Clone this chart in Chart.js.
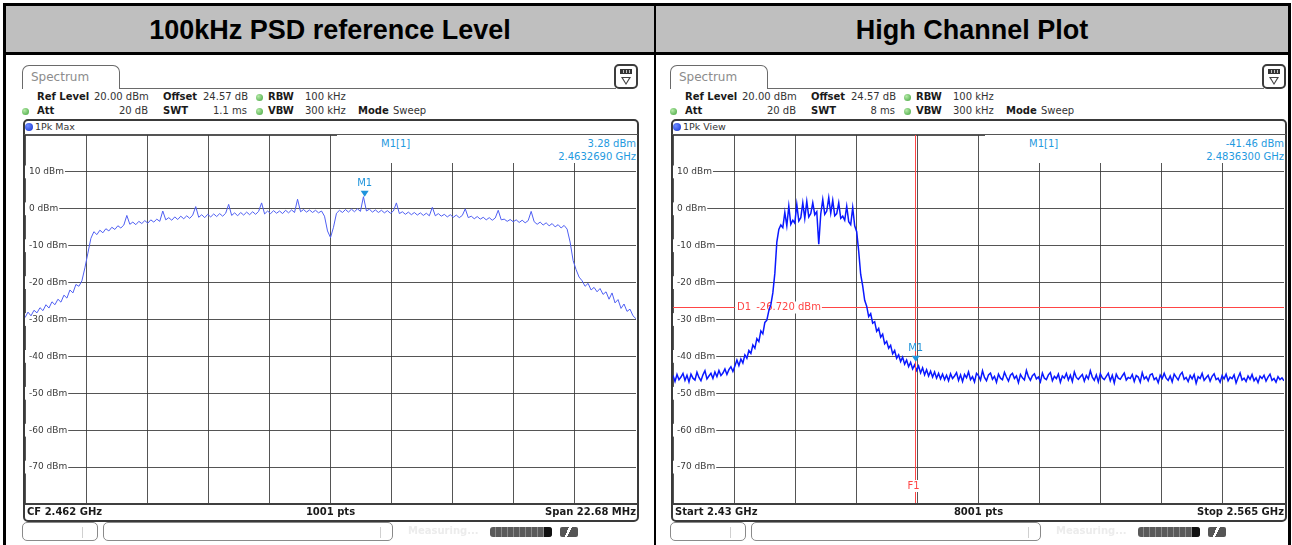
<!DOCTYPE html>
<html lang="en">
<head>
<meta charset="utf-8">
<title>100kHz PSD reference Level / High Channel Plot</title>
<script src="https://cdn.jsdelivr.net/npm/chart.js@4.4.1/dist/chart.umd.min.js"></script>
<style>
  html, body { margin:0; padding:0; background:#fff; }
  body { position:relative; width:1292px; height:545px; overflow:hidden; font-family:"DejaVu Sans", Verdana, sans-serif; }
  .a { position:absolute; white-space:nowrap; }
  #outer { left:3px; top:3px; width:1282px; height:600px; border:3px solid #000; }
  #head { left:6px; top:6px; width:1282px; height:46px; background:#bfbfbf; border-bottom:3px solid #000; }
  #divider { left:654px; top:6px; width:2px; height:560px; background:#000; }
  .title { top:6px; height:46px; text-align:center; font:bold 27px "Liberation Sans", Arial, sans-serif; line-height:48px; color:#000; }
  .panel { top:62px; width:622px; height:483px; }
  .tab { left:2px; top:3px; width:98px; height:24px; box-sizing:border-box; border:1px solid #6a6a6a; border-bottom:none; border-radius:7px 7px 0 0; font-size:12px; color:#8c8c8c; line-height:23px; padding-left:8px; background:#fff; }
  .tabline { left:99px; top:26px; width:497px; height:1px; background:#6a6a6a; }
  .icon { left:594px; top:2px; width:24px; height:25px; box-sizing:border-box; border:2px solid #3c3c3c; border-radius:5px; background:#fff; }
  .bat { left:4px; top:3px; width:12px; height:5px; background:repeating-linear-gradient(90deg,#333 0 2px,#bbb 2px 3px); border:1px solid #333; box-sizing:border-box; }
  .tri { left:5px; top:11px; width:0; height:0; border-left:5px solid transparent; border-right:5px solid transparent; border-top:8px solid #444; }
  .tri2 { left:7px; top:12px; width:0; height:0; border-left:3px solid transparent; border-right:3px solid transparent; border-top:5px solid #fff; }
  .t { font-size:10px; line-height:12px; height:12px; color:#333; }
  .b { font-weight:bold; color:#1a1a1a; }
  .dot { width:7px; height:7px; border-radius:50%; background:radial-gradient(circle at 35% 35%, #b5eaa8, #3fa33a); }
  .tbox { left:3px; top:57px; width:616px; height:403px; box-sizing:border-box; border:2px solid #3a3a3a; border-radius:5px; }
  .bdot { left:5px; top:61px; width:8px; height:8px; border-radius:50%; background:radial-gradient(circle at 35% 35%, #6f8cff, #1030d0); }
  .pline { left:4px; top:72px; width:614px; height:1px; background:#555; }
  .bline { left:4px; top:441px; width:614px; height:2px; background:#3f3f3f; }
  .cv { left:5px; top:73px; }
  .mbox { left:317px; top:73px; width:299px; height:28px; background:#fff; }
  .mk { color:#1f9ae0; font-size:10px; line-height:12px; }
  .foot { top:443px; font-size:10px; font-weight:bold; line-height:14px; color:#1a1a1a; }
  .sb { top:460px; height:19px; box-sizing:border-box; border:1px solid #8a8a8a; border-radius:5px; background:#fff; }
  .sbd { top:4px; width:1px; height:11px; background:#d0d0d0; }
  .meas { left:388px; top:463px; font-size:10px; font-weight:bold; color:#ececec; }
  .prog { left:470px; top:465px; width:62px; height:10px; border-radius:3px; background:repeating-linear-gradient(90deg,#5a5a5a 0 5px,#8a8a8a 5px 6px); }
  .progEnd { left:524px; top:465px; width:8px; height:10px; border-radius:0 3px 3px 0; background:#111; }
  .pico { left:540px; top:465px; width:18px; height:10px; background:linear-gradient(115deg,#555 0 40%, #fff 40% 52%, #555 52%); border-radius:2px; }
</style>
</head>
<body>
<div id="outer" class="a"></div>
<div id="head" class="a"></div>
<div id="divider" class="a"></div>
<div class="a title" style="left:6px;width:648px;">100kHz PSD reference Level</div>
<div class="a title" style="left:656px;width:632px;">High Channel Plot</div>
<div id="panels"></div>

<script>
// ---- Level axis (dBm) ----
const levelMin = -80;
const levelMax = 20;
const gridLevels = [20, 10, 0, -10, -20, -30, -40, -50, -60, -70, -80];
const levelTicks = [10, 0, -10, -20, -30, -40, -50, -60, -70];

// ---- 100 kHz PSD sweep: CF 2.462 GHz, span 22.68 MHz ----
const psdStartMHz = 2450.66;
const psdStopMHz = 2473.34;
const psdLevels = [
  -29.5,-28,-29,-27.5,-28.2,-26.8,-27.6,-26,-26.9,-25.2,
  -26,-24.5,-25.3,-23.4,-24.2,-22,-22.8,-20.5,-21,-19.5,
  -16,-12,-8,-6.2,-7,-5.8,-6.5,-5.4,-6,-5,
  -5.6,-4.6,-5.2,-4.4,-1.8,-4.2,-3.6,-4.3,-3.4,-4,
  -3.2,-3.9,-3,-3.6,-2.8,-3.4,-0.6,-3,-2.4,-3.1,
  -2.2,-2.9,-2,-2.7,-1.9,-2.6,-1.7,0.6,-2.3,-1.6,
  -2.4,-1.5,-2.2,-1.4,-2.1,-1.3,-2,-1.2,1.2,-1.8,
  -1.1,-1.9,-1,-1.7,-0.9,-1.6,-0.8,-1.5,-0.7,1.6,
  -1.4,-0.6,-1.3,-0.5,-1.2,-0.6,-1.3,-0.4,-1.1,-0.3,
  -1,2.6,-0.8,-0.2,-0.9,-0.3,-1,-0.4,-1.1,-0.6,
  -2,-6,-7.8,-5,-1.2,-0.4,-1,-0.2,-0.9,-0.1,
  -0.8,0,-0.7,3.28,-0.6,-0.1,-0.9,-0.3,-1,-0.4,
  -1.1,-0.5,-1.2,-0.6,1.6,-1.3,-0.8,-1.5,-0.9,-1.6,
  -1,-1.7,-1.1,-1.8,-1.2,-1.9,0.4,-1.9,-1.3,-2,
  -1.5,-2.2,-1.6,-2.3,-1.7,-2.4,-1.8,0,-2.4,-2,
  -2.7,-2.1,-2.8,-2.3,-3,-2.4,-3.1,-2.5,-0.4,-3,
  -2.8,-3.4,-2.9,-3.5,-3,-3.7,-3.1,-3.8,-3.2,-0.7,
  -3.5,-4.2,-3.6,-4.4,-3.8,-4.6,-4,-4.9,-4.3,-5.2,
  -4.5,-5.5,-9,-14,-16.5,-18.5,-19.5,-21,-20.2,-22,
  -21.3,-22.5,-21.6,-23.2,-22.5,-24.5,-22.8,-25.5,-24.6,-27,
  -25.8,-27.8,-27.2,-29,-29.8
];
const psdMarkerMHz = 2463.269;
const psdMarkerDbm = 3.28;

// ---- High channel sweep: 2.43 GHz to 2.565 GHz ----
const hiStartMHz = 2430;
const hiStopMHz = 2565;
const hiLevels = [
  -45.2,-46.8,-44.9,-46.3,-45.6,-44.6,-46.5,-45.1,-46.9,-44.8,
  -45.9,-46.4,-44.3,-45.7,-46.6,-45.0,-43.9,-46.1,-45.3,-44.6,
  -46.0,-44.2,-45.5,-43.8,-45.2,-44.5,-43.4,-44.9,-43.6,-42.8,
  -44.1,-42.6,-41.0,-42.5,-40.7,-41.8,-39.6,-40.5,-38.4,-39.2,
  -36.9,-37.8,-35.2,-36.0,-33.1,-33.9,-30.8,-30.2,-27.6,-26.0,
  -22.8,-17.5,-9.0,
  -5.6,-4.4,-5.1,-1.0,-4.6,0.7,-4.2,
  -3.1,-3.9,1.2,-3.3,-2.4,1.6,-2.6,2.0,-2.2,-1.3,
  1.6,-1.6,-0.8,-9.6,-1.4,2.5,-1.5,-0.6,3.0,-1.2,
  2.3,-1.9,-1.3,1.6,-2.6,-2.0,-3.1,0.7,-3.5,-4.3,
  0.3,-4.6,-6.2,-11.5,-17.8,-20.9,-24.8,-26.4,-29.2,-28.4,
  -31.0,-30.6,-33.2,-32.4,-34.8,-34.0,-36.6,-35.9,-37.8,-37.0,
  -39.3,-38.4,-40.5,-39.6,-41.4,-40.2,-42.1,-41.0,-42.8,-41.6,
  -43.4,-42.3,-43.8,-42.6,-44.5,-43.1,-45.0,-43.6,-45.3,-44.0,
  -45.6,-44.2,-45.9,-44.6,-46.1,-44.8,-46.3,
  -45.1,-46.6,-44.7,-46.0,-45.3,-44.4,-46.5,-45.0,-46.8,-44.9,
  -45.8,-44.2,-46.3,-45.5,-46.9,-44.6,-45.2,-46.4,-43.9,-45.7,
  -46.6,-45.0,-44.5,-46.2,-45.4,-47.0,-44.8,-45.9,-46.3,-44.3,
  -45.6,-46.7,-45.1,-44.6,-46.0,-45.3,-47.1,-44.9,-45.8,-46.4,
  -43.8,-45.5,-46.5,-45.2,-44.7,-46.1,-45.6,-46.9,-44.5,-45.9,
  -46.3,-45.0,-44.4,-46.6,-45.4,-46.0,-44.8,-47.0,-45.3,-45.9,
  -44.6,-46.4,-45.1,-46.8,-44.2,-45.7,-46.2,-45.5,-44.9,-46.7,
  -45.2,-46.1,-43.9,-45.6,-46.5,-45.0,-46.9,-44.7,-45.8,-46.3,
  -45.4,-44.6,-46.6,-45.1,-47.2,-44.8,-45.9,-46.2,-45.3,-44.5,
  -46.4,-45.7,-46.0,-44.9,-46.8,-45.2,-45.6,-47.0,-44.4,-46.1,
  -45.5,-46.6,-45.0,-44.7,-46.3,-45.8,-47.1,-45.1,-46.0,-44.6,
  -45.9,-46.5,-45.3,-46.9,-44.8,-45.6,-46.4,-45.0,-44.3,-46.2,
  -45.7,-46.8,-45.2,-46.1,-44.9,-47.3,-45.5,-46.0,-44.6,-46.5,
  -45.8,-45.1,-46.7,-45.4,-44.7,-46.3,-45.9,-47.0,-45.2,-46.1,
  -44.8,-46.6,-45.6,-46.0,-45.0,-47.2,-45.7,-44.5,-46.4,-45.9,
  -46.8,-45.3,-46.2,-44.9,-46.6,-45.8,-47.1,-45.4,-46.0,-45.1,
  -46.7,-45.6,-44.8,-46.5,-46.0,-47.0,-45.5,-46.3,-45.8,-46.6
];
const hiMarkerMHz = 2483.63;
const hiMarkerDbm = -41.46;
const hiDisplayLineDbm = -26.72;
const hiFreqLineMHz = 2483.5;

// ---- Instrument header / footer texts ----
const panelSettings = [
  { left: 20, canvasId: 'psdCanvas', swt: '1.1 ms', trace: '1Pk Max',
    markerDbm: psdMarkerDbm, markerMHz: psdMarkerMHz,
    foot: ['CF 2.462 GHz', '1001 pts', 'Span 22.68 MHz'] },
  { left: 668, canvasId: 'hiCanvas', swt: '8 ms', trace: '1Pk View',
    markerDbm: hiMarkerDbm, markerMHz: hiMarkerMHz,
    foot: ['Start 2.43 GHz', '8001 pts', 'Stop 2.565 GHz'] }
];

const gridColor = 'rgba(55,55,55,0.85)';
const markerColor = '#1f94dc';
const redColor = '#ff4545';

function panelHTML(p) {
  return `
  <div class="a panel" style="left:${p.left}px">
    <div class="a tab">Spectrum</div>
    <div class="a tabline"></div>
    <div class="a icon"><div class="a bat"></div><div class="a tri"></div><div class="a tri2"></div></div>
    <div class="a t b" style="left:17px;top:29px">Ref Level</div>
    <div class="a t" style="left:74px;top:29px">20.00 dBm</div>
    <div class="a t b" style="left:143px;top:29px">Offset</div>
    <div class="a t" style="left:183px;top:29px">24.57 dB</div>
    <div class="a dot" style="left:236px;top:32px"></div>
    <div class="a t b" style="left:248px;top:29px">RBW</div>
    <div class="a t" style="left:285px;top:29px">100 kHz</div>
    <div class="a dot" style="left:2px;top:46px"></div>
    <div class="a t b" style="left:17px;top:43px">Att</div>
    <div class="a t" style="right:494px;top:43px">20 dB</div>
    <div class="a t b" style="left:143px;top:43px">SWT</div>
    <div class="a t" style="right:395px;top:43px">${p.swt}</div>
    <div class="a dot" style="left:236px;top:46px"></div>
    <div class="a t b" style="left:248px;top:43px">VBW</div>
    <div class="a t" style="left:285px;top:43px">300 kHz</div>
    <div class="a t b" style="left:338px;top:43px">Mode</div>
    <div class="a t" style="left:373px;top:43px">Sweep</div>
    <div class="a tbox"></div>
    <div class="a bdot"></div>
    <div class="a t" style="left:15px;top:59px;font-size:9.5px">${p.trace}</div>
    <div class="a pline"></div>
    <canvas id="${p.canvasId}" class="a cv" width="611" height="369"></canvas>
    <div class="a mbox"></div>
    <div class="a mk" style="left:361px;top:76px">M1[1]</div>
    <div class="a mk" style="right:6px;top:76px">${p.markerDbm.toFixed(2)} dBm</div>
    <div class="a mk" style="right:6px;top:89px">${(p.markerMHz / 1000).toFixed(7)} GHz</div>
    <div class="a bline"></div>
    <div class="a foot" style="left:7px">${p.foot[0]}</div>
    <div class="a foot" style="left:0;width:621px;text-align:center">${p.foot[1]}</div>
    <div class="a foot" style="right:6px">${p.foot[2]}</div>
    <div class="a sb" style="left:2px;width:76px"><div class="a sbd" style="left:59px"></div></div>
    <div class="a sb" style="left:83px;width:290px"><div class="a sbd" style="left:276px"></div></div>
    <div class="a meas">Measuring...</div>
    <div class="a prog"></div><div class="a progEnd"></div>
    <div class="a pico"></div>
  </div>`;
}
document.getElementById('panels').innerHTML = panelSettings.map(panelHTML).join('');

// Markers, display line and frequency line drawn in data coordinates
const sweepOverlay = {
  id: 'sweepOverlay',
  beforeDatasetsDraw(chart, args, o) {
    if (o.displayLine === undefined || o.displayLine === null) return;
    const { ctx, chartArea: a, scales: { x, y } } = chart;
    const py = Math.round(y.getPixelForValue(o.displayLine)) + 0.5;
    ctx.save();
    ctx.strokeStyle = redColor; ctx.lineWidth = 1;
    ctx.beginPath(); ctx.moveTo(a.left, py); ctx.lineTo(a.right, py); ctx.stroke();
    ctx.font = '10px "DejaVu Sans"'; ctx.textBaseline = 'middle'; ctx.textAlign = 'left';
    const lx = x.getPixelForValue(x.ticks[1].value) + 3;
    const name = o.displayLineName;
    const val = o.displayLine.toFixed(3) + ' dBm';
    const w1 = ctx.measureText(name).width, gap = 5, w2 = ctx.measureText(val).width;
    ctx.fillStyle = '#fff'; ctx.fillRect(lx - 2, py - 6, w1 + gap + w2 + 3, 12);
    ctx.fillStyle = redColor; ctx.fillText(name, lx, py); ctx.fillText(val, lx + w1 + gap, py);
    ctx.restore();
  },
  afterDatasetsDraw(chart, args, o) {
    const { ctx, chartArea: a, scales: { x, y } } = chart;
    ctx.save();
    if (o.freqLine !== undefined && o.freqLine !== null) {
      const fx = Math.round(x.getPixelForValue(o.freqLine)) + 0.5;
      ctx.strokeStyle = redColor; ctx.lineWidth = 1;
      ctx.beginPath(); ctx.moveTo(fx, a.top); ctx.lineTo(fx, a.bottom); ctx.stroke();
      ctx.font = '10px "DejaVu Sans"'; ctx.textAlign = 'center'; ctx.textBaseline = 'middle';
      const ly = a.bottom - 18;
      ctx.fillStyle = '#fff'; ctx.fillRect(fx - 9, ly - 6, 14, 12);
      ctx.fillStyle = redColor; ctx.fillText(o.freqLineName, fx - 2, ly);
    }
    for (const m of (o.markers || [])) {
      const px = x.getPixelForValue(m.freq), py = y.getPixelForValue(m.level);
      ctx.fillStyle = markerColor;
      ctx.beginPath(); ctx.moveTo(px - 4, py - 6); ctx.lineTo(px + 4, py - 6); ctx.lineTo(px, py); ctx.closePath(); ctx.fill();
      ctx.font = '10px "DejaVu Sans"'; ctx.textAlign = 'center'; ctx.textBaseline = 'middle';
      ctx.fillText(m.name, px, py - 13);
    }
    ctx.restore();
  }
};

function drawSweep(canvasId, startMHz, stopMHz, levels, traceColor, traceWidth, overlay) {
  const n = levels.length;
  const points = levels.map((v, i) => ({ x: startMHz + (stopMHz - startMHz) * i / (n - 1), y: v }));
  const divisions = 10;
  return new Chart(document.getElementById(canvasId), {
    type: 'line',
    data: { datasets: [{ data: points, borderColor: traceColor, borderWidth: traceWidth,
                         pointRadius: 0, fill: false, tension: 0 }] },
    options: {
      responsive: false, animation: false, events: [],
      layout: { padding: 0 },
      plugins: { legend: { display: false }, tooltip: { enabled: false }, sweepOverlay: overlay },
      scales: {
        x: {
          type: 'linear', min: startMHz, max: stopMHz,
          afterBuildTicks: s => { s.ticks = Array.from({ length: divisions + 1 }, (_, i) => ({ value: startMHz + (stopMHz - startMHz) * i / divisions })); },
          afterFit: s => { s.height = 0; s.paddingLeft = 0; s.paddingRight = 0; },
          ticks: { display: false },
          grid: { color: gridColor, lineWidth: 1, drawTicks: false },
          border: { display: false }
        },
        y: {
          type: 'linear', min: levelMin, max: levelMax,
          afterBuildTicks: s => { s.ticks = gridLevels.map(v => ({ value: v })); },
          afterFit: s => { s.width = 0; s.paddingTop = 0; s.paddingBottom = 0; },
          ticks: {
            mirror: true, padding: 4, color: '#3a3a3a',
            font: { family: 'DejaVu Sans', size: 9 },
            callback: v => levelTicks.includes(v) ? v + ' dBm' : '',
            showLabelBackdrop: c => levelTicks.includes(c.tick.value),
            backdropColor: '#fff',
            backdropPadding: { top: 1, bottom: 1, left: 4, right: 1 }
          },
          grid: { color: gridColor, lineWidth: 1, drawTicks: false },
          border: { display: false }
        }
      }
    },
    plugins: [sweepOverlay]
  });
}

drawSweep('psdCanvas', psdStartMHz, psdStopMHz, psdLevels, '#4f5ff2', 1, {
  markers: [{ name: 'M1', freq: psdMarkerMHz, level: psdMarkerDbm }]
});
drawSweep('hiCanvas', hiStartMHz, hiStopMHz, hiLevels, '#0a18ff', 1.5, {
  markers: [{ name: 'M1', freq: hiMarkerMHz, level: hiMarkerDbm }],
  displayLine: hiDisplayLineDbm, displayLineName: 'D1',
  freqLine: hiFreqLineMHz, freqLineName: 'F1'
});
</script>
</body>
</html>
